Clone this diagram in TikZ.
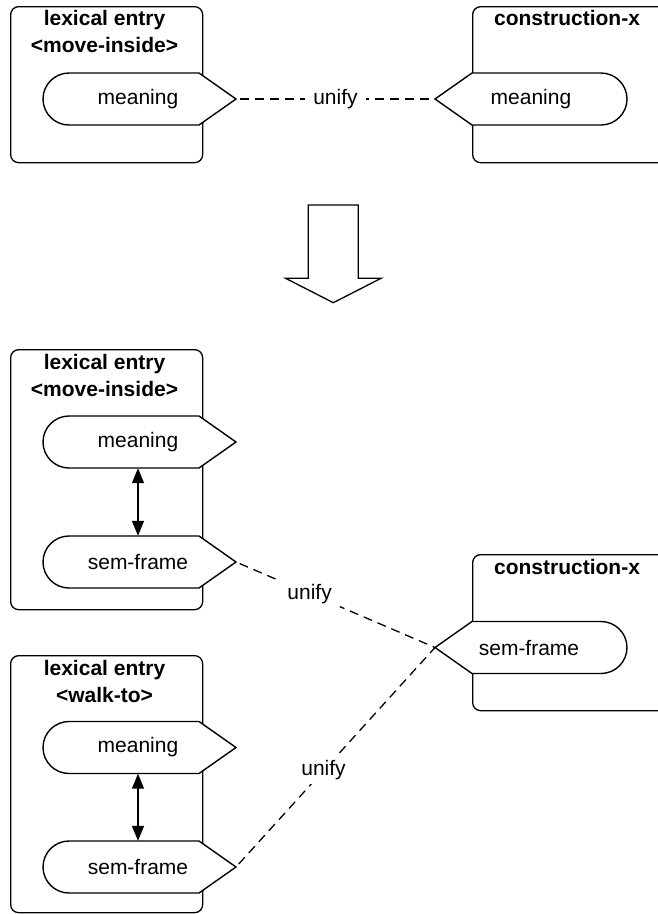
\documentclass[tikz,border=0pt]{standalone}
\usepackage{fontspec}
\setmainfont{Liberation Sans}
\usetikzlibrary{arrows.meta}
\tikzset{
  box/.style={draw, line width=1.3pt, rounded corners=8pt, inner sep=0pt, anchor=north west},
  pill/.style={draw, fill=white, line width=1.4pt, line join=miter},
  txt/.style={font=\fontsize{21}{26}\selectfont, inner sep=0pt},
  title/.style={font=\fontsize{21}{27}\selectfont\bfseries, align=center, inner sep=0pt},
  pilltext/.style={txt, minimum height=52pt},
  uline/.style={line width=1.3pt, dash pattern=on 9pt off 6pt, dash phase=-4pt},
  lbl/.style={txt, fill=white, inner xsep=8pt, inner ysep=4pt},
  dbl/.style={line width=1.5pt, {Triangle[length=15pt,width=12pt]}-{Triangle[length=15pt,width=12pt]}},
  bigarrow/.style={draw, line width=1.3pt, fill=white, line join=miter}
}
\newcommand\lexpill[1]{%
  \draw[pill] (199,{#1-26}) -- (236,#1) -- (199,{#1+26}) -- (69,{#1+26})
    arc[start angle=270,end angle=90,radius=26pt] -- cycle;}
\newcommand\cxpill[1]{%
  \draw[pill] (472,{#1-26}) -- (435,#1) -- (472,{#1+26}) -- (601,{#1+26})
    arc[start angle=270,end angle=450,radius=26pt] -- cycle;}
\begin{document}
\begin{tikzpicture}[x=1pt,y=-1pt]
\useasboundingbox (0,0) rectangle (658,914);
% boxes
\node[box, minimum width=192pt, minimum height=156pt] (L1) at (10,6) {};
\node[box, minimum width=208pt, minimum height=156pt] (C1) at (472,6) {};
\node[box, minimum width=192pt, minimum height=260pt] (L2) at (10,349) {};
\node[box, minimum width=208pt, minimum height=156pt] (C2) at (472,554) {};
\node[box, minimum width=192pt, minimum height=257pt] (L3) at (10,655) {};
% titles
\node[title] (T1) at (104.5,31.5) {lexical entry\\<move-inside>};
\node[title] (T2) at (567,18) {construction-x};
\node[title] (T3) at (104.5,375) {lexical entry\\<move-inside>};
\node[title] (T4) at (567,567) {construction-x};
\node[title] (T5) at (104.5,681.5) {lexical entry\\<walk-to>};
% pills
\lexpill{99}
\cxpill{99}
\lexpill{442}
\lexpill{562}
\cxpill{647.5}
\lexpill{747.5}
\lexpill{867}
\node[pilltext] (m1) at (138,99) {meaning};
\node[pilltext] (m1c) at (531,99) {meaning};
\node[pilltext] (m2) at (138,442) {meaning};
\node[pilltext] (s2) at (138,562) {sem-frame};
\node[pilltext] (s2c) at (529,647.5) {sem-frame};
\node[pilltext] (m3) at (138,747.5) {meaning};
\node[pilltext] (s3) at (138,867) {sem-frame};
% tips
\coordinate (tm1) at (236,99);
\coordinate (tc1) at (435,99);
\coordinate (ts2) at (236,562);
\coordinate (tc2) at (435,647.5);
\coordinate (ts3) at (236,867);
% connectors
\draw[uline] (tm1) -- node[lbl] {unify} (tc1);
\draw[uline] (ts2) -- node[lbl, pos=0.37] {unify} (tc2);
\draw[uline] (ts3) -- node[lbl, pos=0.44] {unify} (tc2);
\draw[dbl] (m2.south) -- (s2.north);
\draw[dbl] (m3.south) -- (s3.north);
% big arrow
\draw[bigarrow] (308.3,205) -- (358.3,205) -- (358.3,278.3) -- (381,278.3)
  -- (333.3,302.7) -- (285.6,278.3) -- (308.3,278.3) -- cycle;
\end{tikzpicture}
\end{document}
